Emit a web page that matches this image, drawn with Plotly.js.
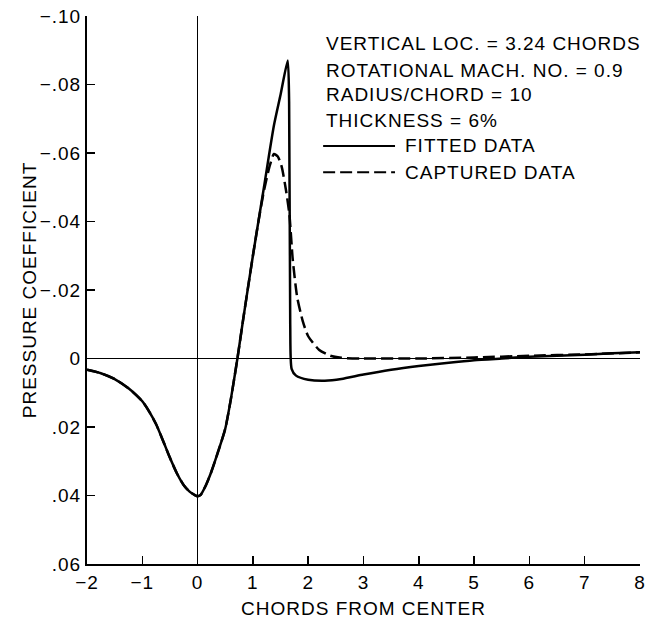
<!DOCTYPE html>
<html><head><meta charset="utf-8">
<script src="https://cdn.plot.ly/plotly-3.0.1.min.js"></script>
<style>
html,body{margin:0;padding:0;background:#fff;}
#chart{width:648px;height:620px;}
#chart text{letter-spacing:1px;}
</style></head><body><div id="chart"></div>
<script>
// Chords from center (x) and pressure coefficient (y)
const fittedX = [-2, -1.75, -1.5, -1.25, -1, -0.875, -0.75, -0.625, -0.5, -0.375, -0.25, -0.15, -0.05, 0, 0.05, 0.15, 0.25, 0.375, 0.5, 0.6, 0.72, 0.82, 1.0, 1.2, 1.38, 1.5, 1.63, 1.655, 1.675, 1.70, 1.78, 2.0, 2.3, 2.6, 3.0, 3.5, 4.0, 4.5, 5.0, 5.5, 6.0, 6.5, 7.0, 7.5, 8.0];
const fittedY = [0.0033, 0.0043, 0.006, 0.0087, 0.0125, 0.0155, 0.0192, 0.024, 0.029, 0.0335, 0.037, 0.0388, 0.0399, 0.0402, 0.0399, 0.037, 0.0330, 0.027, 0.0205, 0.012, 0.0, -0.011, -0.030, -0.050, -0.068, -0.077, -0.087, -0.075, -0.010, 0.003, 0.005, 0.0062, 0.0065, 0.0060, 0.0047, 0.0033, 0.0022, 0.0013, 0.0005, 0.0, -0.0005, -0.0008, -0.0011, -0.0015, -0.0018];

const capturedX = [-2, -1.75, -1.5, -1.25, -1, -0.875, -0.75, -0.625, -0.5, -0.375, -0.25, -0.15, -0.05, 0, 0.05, 0.15, 0.25, 0.375, 0.5, 0.6, 0.72, 0.82, 1.0, 1.1, 1.2, 1.3, 1.38, 1.45, 1.52, 1.6, 1.66, 1.72, 1.8, 1.9, 2.0, 2.2, 2.4, 2.6, 3.0, 4.0, 5.0, 6.0, 7.0, 8.0];
const capturedY = [0.0033, 0.0043, 0.006, 0.0087, 0.0125, 0.0155, 0.0192, 0.024, 0.029, 0.0335, 0.037, 0.0388, 0.0399, 0.0402, 0.0399, 0.037, 0.0330, 0.027, 0.0205, 0.012, 0.0, -0.011, -0.030, -0.040, -0.049, -0.056, -0.0597, -0.059, -0.056, -0.049, -0.042, -0.029, -0.018, -0.011, -0.0065, -0.0025, -0.0008, -0.0002, 0.0, 0.0, -0.0003, -0.0008, -0.0012, -0.0018];

const yTickVals = [-0.10, -0.08, -0.06, -0.04, -0.02, 0, 0.02, 0.04, 0.06];
const yTickText = ['\u2212.10', '\u2212.08', '\u2212.06', '\u2212.04', '\u2212.02', '0', '.02', '.04', '.06'];
const xTickVals = [-2, -1, 0, 1, 2, 3, 4, 5, 6, 7, 8];
const xTickText = ['\u22122', '\u22121', '0', '1', '2', '3', '4', '5', '6', '7', '8'];

const infoLines = ['VERTICAL LOC. = 3.24 CHORDS', 'ROTATIONAL MACH. NO. = 0.9', 'RADIUS/CHORD = 10', 'THICKNESS = 6%'];
const seriesNames = ['FITTED DATA', 'CAPTURED DATA'];

const FONT = 'Liberation Sans, Arial, sans-serif';
const FS = 19;

const traces = [
  {x: fittedX, y: fittedY, mode: 'lines', name: seriesNames[0], line: {color: '#000', width: 2.5, shape: 'spline', smoothing: 0.6}, showlegend: false},
  {x: capturedX, y: capturedY, mode: 'lines', name: seriesNames[1], line: {color: '#000', width: 2.5, dash: '12px,5px', shape: 'spline', smoothing: 0.6}, showlegend: false}
];

const infoY = [0.949, 0.901, 0.856, 0.810];
const legendY = [0.763, 0.715];
const annotations = [];
infoLines.forEach((t, i) => annotations.push({xref: 'paper', yref: 'paper', x: 0.428, y: infoY[i], xanchor: 'left', yanchor: 'middle', align: 'left', text: t, showarrow: false, font: {family: FONT, size: FS, color: '#000'}}));
seriesNames.forEach((t, i) => annotations.push({xref: 'paper', yref: 'paper', x: 0.572, y: legendY[i], xanchor: 'left', yanchor: 'middle', align: 'left', text: t, showarrow: false, font: {family: FONT, size: FS, color: '#000'}}));

const shapes = [
  {type: 'line', xref: 'paper', yref: 'paper', x0: 0.427, x1: 0.557, y0: legendY[0], y1: legendY[0], line: {color: '#000', width: 2}},
  {type: 'line', xref: 'paper', yref: 'paper', x0: 0.427, x1: 0.557, y0: legendY[1], y1: legendY[1], line: {color: '#000', width: 2, dash: '12px,5px'}}
];

const layout = {
  width: 648, height: 620,
  margin: {l: 87, r: 8, t: 16, b: 56},
  paper_bgcolor: '#fff', plot_bgcolor: '#fff',
  showlegend: false,
  font: {family: FONT, size: FS, color: '#000'},
  xaxis: {
    range: [-2, 8], tickvals: xTickVals, ticktext: xTickText,
    showgrid: false, zeroline: true, zerolinecolor: '#000', zerolinewidth: 1.5,
    showline: true, linecolor: '#000', linewidth: 2, mirror: false,
    ticks: 'inside', ticklen: 8, tickwidth: 1.5, tickcolor: '#000',
    ticklabeloverflow: 'allow',
    tickfont: {family: FONT, size: FS, color: '#000'},
    title: {text: 'CHORDS FROM CENTER', font: {family: FONT, size: FS, color: '#000'}, standoff: 10}
  },
  yaxis: {
    range: [0.06, -0.10], tickvals: yTickVals, ticktext: yTickText,
    showgrid: false, zeroline: true, zerolinecolor: '#000', zerolinewidth: 1.5,
    showline: true, linecolor: '#000', linewidth: 2, mirror: false,
    ticks: 'inside', ticklen: 8, tickwidth: 1.5, tickcolor: '#000',
    ticklabeloverflow: 'allow',
    tickfont: {family: FONT, size: FS, color: '#000'},
    title: {text: 'PRESSURE COEFFICIENT', font: {family: FONT, size: FS, color: '#000'}, standoff: 2}
  },
  annotations: annotations,
  shapes: shapes
};

Plotly.newPlot('chart', traces, layout, {displayModeBar: false, staticPlot: true});
</script></body></html>
